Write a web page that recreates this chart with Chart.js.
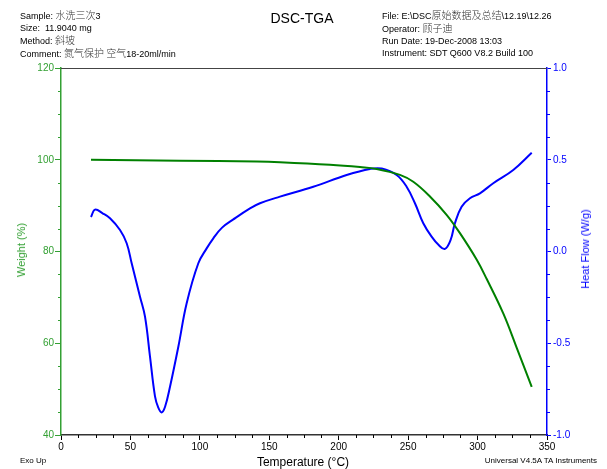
<!DOCTYPE html>
<html>
<head>
<meta charset="utf-8">
<script src="https://cdn.jsdelivr.net/npm/chart.js@4/dist/chart.umd.min.js"></script>
<style>
  body { margin: 0; background: #fff; }
  #wrap { position: relative; width: 607px; height: 469px; font-family: 'Liberation Sans', Arial, 'Noto Sans CJK SC', sans-serif; }
  .t { position: absolute; white-space: nowrap; color: #000; }
  .info { font-size: 9px; line-height: 12px; }
  .cjk { font-family: 'Noto Sans CJK SC', sans-serif; font-size: 10px; color: #333; font-weight: 300; }
  .rot { transform: translate(-50%, -50%) rotate(-90deg); font-size: 11px; }
</style>
</head>
<body>
<div id="wrap">
  <canvas id="c" width="607" height="469"></canvas>
  <div class="t info" style="left:20px; top:9px;">Sample: <span class="cjk">水洗三次</span>3<br>Size:&nbsp; 11.9040 mg<br>Method: <span class="cjk">斜坡</span><br>Comment: <span class="cjk">氮气保护 空气</span>18-20ml/min</div>
  <div class="t info" style="left:382px; top:9px;">File: E:\DSC<span class="cjk">原始数据及总结</span>\12.19\12.26<br>Operator: <span class="cjk">顾子迪</span><br>Run Date: 19-Dec-2008 13:03<br>Instrument: SDT Q600 V8.2 Build 100</div>
  <div class="t" style="left:302px; top:18px; transform: translate(-50%, -50%); font-size:14px;">DSC-TGA</div>
  <div class="t rot" style="left:21px; top:250px; color:#33a033;">Weight (%)</div>
  <div class="t rot" style="left:585px; top:249px; color:#0000ff;">Heat Flow (W/g)</div>
  <div class="t" style="left:303px; top:462px; transform: translate(-50%, -50%); font-size:12px;">Temperature (°C)</div>
  <div class="t" style="left:20px; top:460px; transform: translateY(-50%); font-size:8px;">Exo Up</div>
  <div class="t" style="right:10px; top:460px; transform: translateY(-50%); font-size:8px;">Universal V4.5A TA Instruments</div>
</div>
<script>
// TGA weight curve (°C, %)
var weightTemp = [21.6, 85.7, 140.9, 157.7, 193.7, 215.3, 227.3, 244.1, 253.7, 265.7, 277.7, 287.3, 299.4, 306.6, 318.5, 328.2, 339];
var weightVals = [100.0, 99.8, 99.6, 99.45, 98.9, 98.4, 98.0, 96.7, 95.2, 92.0, 88.0, 84.0, 78.2, 74.0, 66.5, 59.0, 50.5];

// DSC heat flow curve (°C, W/g)
var heatTemp = [21.6, 24.5, 30, 35.3, 42.5, 47.3, 50.9, 56.9, 60.5, 64.1, 67.7, 70, 72.5, 75, 78.5, 84.5, 90.5, 98.9,
  104.9, 109.7, 116, 124.1, 136.1, 143.3, 157.7, 181.7, 205.7, 222.5, 231, 241.7, 248.9, 254.9, 260.9, 266.9, 272,
  276.5, 280.6, 283.7, 288.5, 294.5, 301.7, 311.3, 325.7, 339];
var heatVals = [0.188, 0.228, 0.208, 0.181, 0.117, 0.045, -0.064, -0.246, -0.355, -0.573, -0.79, -0.85, -0.877, -0.845, -0.737, -0.519, -0.282, -0.064,
  0.017, 0.072, 0.13, 0.175, 0.235, 0.263, 0.299, 0.353, 0.417, 0.45, 0.452, 0.417, 0.353, 0.263, 0.154, 0.081, 0.035,
  0.014, 0.063, 0.154, 0.244, 0.29, 0.317, 0.372, 0.444, 0.538];

// axis ranges / steps
var xRange = [0, 350], xMajor = 50, xMinor = 12.5;
var wRange = [40, 120], wMajor = 20, wMinor = 5;
var hRange = [-1, 1], hMajor = 0.5, hMinor = 0.125;

var green = '#33a033';
var blue = '#0000ff';
var font = "'Liberation Sans', Arial, sans-serif";

function toPoints(xs, ys) {
  return xs.map(function (x, i) { return { x: x, y: ys[i] }; });
}

// small minor ticks + top frame line
var frameAndMinor = {
  id: 'frameAndMinor',
  afterDraw: function (chart) {
    var ctx = chart.ctx, a = chart.chartArea, s = chart.scales;
    ctx.save();
    ctx.lineWidth = 1;
    ctx.strokeStyle = '#444';
    ctx.beginPath();
    ctx.moveTo(a.left, a.top + 0.5);
    ctx.lineTo(a.right, a.top + 0.5);
    ctx.stroke();

    function minor(scale, step, major, color, draw) {
      ctx.strokeStyle = color;
      for (var v = scale.min; v <= scale.max + 1e-9; v += step) {
        if (Math.abs(v / major - Math.round(v / major)) < 1e-6) continue;
        draw(scale.getPixelForValue(v));
      }
    }
    ctx.beginPath();
    minor(s.x, xMinor, xMajor, '#000', function (p) {
      ctx.moveTo(Math.round(p) + 0.5, a.bottom); ctx.lineTo(Math.round(p) + 0.5, a.bottom + 3);
    });
    ctx.stroke();
    ctx.beginPath();
    minor(s.yW, wMinor, wMajor, green, function (p) {
      ctx.moveTo(a.left, Math.round(p) + 0.5); ctx.lineTo(a.left - 3, Math.round(p) + 0.5);
    });
    ctx.stroke();
    ctx.beginPath();
    minor(s.yH, hMinor, hMajor, blue, function (p) {
      ctx.moveTo(a.right, Math.round(p) + 0.5); ctx.lineTo(a.right + 3, Math.round(p) + 0.5);
    });
    ctx.stroke();
    ctx.restore();
  }
};

new Chart(document.getElementById('c'), {
  type: 'line',
  data: {
    datasets: [
      {
        label: 'Weight',
        data: toPoints(weightTemp, weightVals),
        yAxisID: 'yW',
        borderColor: '#008000',
        borderWidth: 2,
        pointRadius: 0,
        tension: 0.4
      },
      {
        label: 'Heat Flow',
        data: toPoints(heatTemp, heatVals),
        yAxisID: 'yH',
        borderColor: blue,
        borderWidth: 2,
        pointRadius: 0,
        tension: 0.4
      }
    ]
  },
  options: {
    responsive: false,
    animation: false,
    layout: { padding: { top: 68, left: 0, right: 0, bottom: 0 } },
    plugins: { legend: { display: false }, tooltip: { enabled: false } },
    scales: {
      x: {
        type: 'linear',
        min: xRange[0], max: xRange[1],
        afterFit: function (s) { s.height = 34; },
        border: { color: '#333', width: 1.5 },
        grid: { drawOnChartArea: false, tickLength: 5, tickColor: '#000' },
        ticks: { stepSize: xMajor, color: '#000', padding: 1, font: { family: font, size: 10 }, maxRotation: 0 }
      },
      yW: {
        position: 'left',
        min: wRange[0], max: wRange[1],
        afterFit: function (s) { s.width = 61; },
        border: { color: green, width: 1.5 },
        grid: { drawOnChartArea: false, tickLength: 6, tickColor: green },
        ticks: { stepSize: wMajor, color: green, padding: 1, font: { family: font, size: 10 } }
      },
      yH: {
        position: 'right',
        min: hRange[0], max: hRange[1],
        afterFit: function (s) { s.width = 60; },
        border: { color: blue, width: 1.5 },
        grid: { drawOnChartArea: false, tickLength: 4, tickColor: blue },
        ticks: {
          stepSize: hMajor, color: blue, padding: 2, font: { family: font, size: 10 },
          callback: function (v) { return v.toFixed(1); }
        }
      }
    }
  },
  plugins: [frameAndMinor]
});
</script>
</body>
</html>
